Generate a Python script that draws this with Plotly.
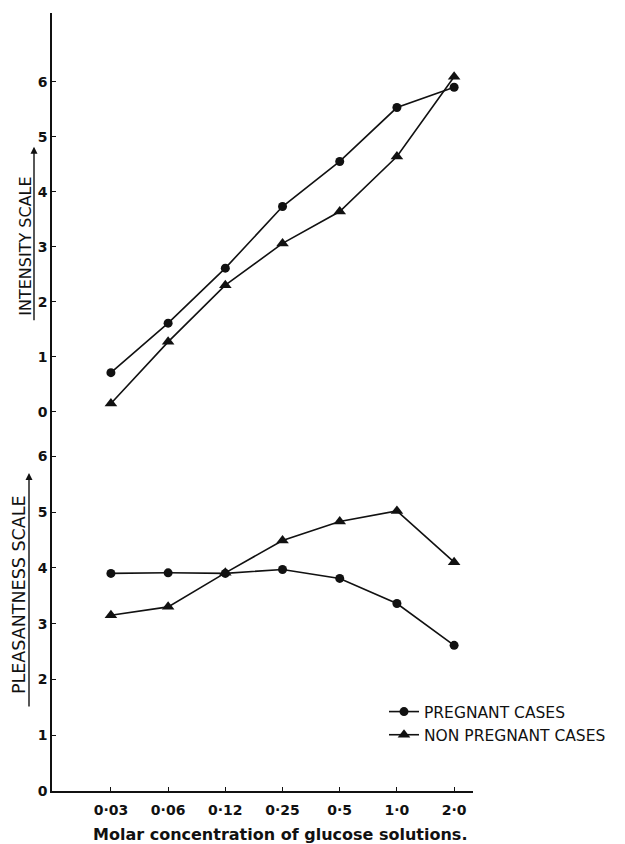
import plotly.graph_objects as go

# ---- data ----
categories = ["0·03", "0·06", "0·12", "0·25", "0·5", "1·0", "2·0"]
intensity_pregnant = [0.71, 1.61, 2.61, 3.73, 4.55, 5.53, 5.90]
intensity_nonpregnant = [0.15, 1.27, 2.30, 3.06, 3.64, 4.64, 6.09]
pleasant_pregnant = [3.90, 3.91, 3.90, 3.97, 3.81, 3.36, 2.61]
pleasant_nonpregnant = [3.15, 3.30, 3.91, 4.49, 4.83, 5.02, 4.10]
y_ticks = [0, 1, 2, 3, 4, 5, 6]

# page has an 8px body margin; work in page pixel coordinates
OFF = 8
W, H = 625 - OFF, 844 - OFF
left_px, right_px, top_px, bottom_px = 52, 473, 13, 791
L = left_px - OFF
T = top_px - OFF
R = W - (right_px - OFF)
B = H - (bottom_px - OFF)
PW, PH = right_px - left_px, bottom_px - top_px
split_px = 420

def px_x(px):
    return (px - left_px) / PW

def px_y(py):
    return (bottom_px - py) / PH

split = px_y(split_px)
INK = "#111111"
FONT = "DejaVu Sans"

fig = go.Figure()

def add(xaxis, yaxis, y, symbol, size, name, show):
    fig.add_trace(go.Scatter(
        x=categories, y=y, mode="lines+markers", name=name,
        xaxis=xaxis, yaxis=yaxis, showlegend=show,
        line=dict(color=INK, width=1.6),
        marker=dict(symbol=symbol, size=size, color=INK),
    ))

add("x2", "y2", intensity_pregnant, "circle", 9, "PREGNANT CASES", False)
add("x2", "y2", intensity_nonpregnant, "triangle-up", 11, "NON PREGNANT CASES", False)
add("x", "y", pleasant_pregnant, "circle", 9, "PREGNANT CASES", True)
add("x", "y", pleasant_nonpregnant, "triangle-up", 11, "NON PREGNANT CASES", True)

xrange = [-1.03, 6.33]
tickfont = dict(family=FONT, size=14, color=INK, weight="bold")

axis_common = dict(showgrid=False, zeroline=False, showline=True,
                   linecolor=INK, linewidth=1.6, ticks="inside",
                   ticklen=4, tickwidth=1.4, tickcolor=INK,
                   tickfont=tickfont)

bottom_top = (bottom_px - split_px) / 55.8
top_bottom = -(split_px - 411.7) / 55.0
top_top = (411.7 - top_px) / 55.0

fig.update_layout(
    width=W, height=H,
    margin=dict(l=L, r=R, t=T, b=B, autoexpand=False),
    paper_bgcolor="white", plot_bgcolor="white",
    xaxis=dict(type="category", range=xrange, anchor="y", domain=[0, 1],
               ticklabelstandoff=5, **axis_common),
    yaxis=dict(range=[0, bottom_top], domain=[0, split], anchor="x",
               tickvals=y_ticks, **axis_common),
    xaxis2=dict(type="category", range=xrange, anchor="y2", domain=[0, 1],
                visible=False),
    yaxis2=dict(range=[top_bottom, top_top], domain=[split, 1], anchor="x2",
                tickvals=y_ticks, **axis_common),
    legend=dict(x=px_x(384), y=px_y(695), xanchor="left", yanchor="top",
                font=dict(family=FONT, size=15.5, color=INK),
                bgcolor="rgba(0,0,0,0)", tracegroupgap=0, itemwidth=30),
    showlegend=True,
)

# y-axis titles with upward arrows (underline arrows)
fig.add_annotation(xref="paper", yref="paper", x=px_x(26), y=px_y(246.7),
                   xanchor="center", yanchor="middle",
                   text="INTENSITY SCALE", textangle=-90, showarrow=False,
                   font=dict(family=FONT, size=16, color=INK))
fig.add_annotation(xref="paper", yref="paper", x=px_x(34), y=px_y(146.7),
                   ax=0, ay=175, text="", showarrow=True, arrowhead=2,
                   arrowsize=1, arrowwidth=1.4, arrowcolor=INK)
fig.add_annotation(xref="paper", yref="paper", x=px_x(19), y=px_y(595),
                   xanchor="center", yanchor="middle",
                   text="PLEASANTNESS SCALE", textangle=-90, showarrow=False,
                   font=dict(family=FONT, size=17.5, color=INK))
fig.add_annotation(xref="paper", yref="paper", x=px_x(29), y=px_y(473),
                   ax=0, ay=235, text="", showarrow=True, arrowhead=2,
                   arrowsize=1, arrowwidth=1.4, arrowcolor=INK)

# x-axis title
fig.add_annotation(xref="paper", yref="paper", x=px_x(280), y=px_y(835),
                   xanchor="center", yanchor="middle",
                   text="<b>Molar concentration of glucose solutions.</b>",
                   showarrow=False, font=dict(family=FONT, size=16, color=INK))

fig.write_html("out.html")
